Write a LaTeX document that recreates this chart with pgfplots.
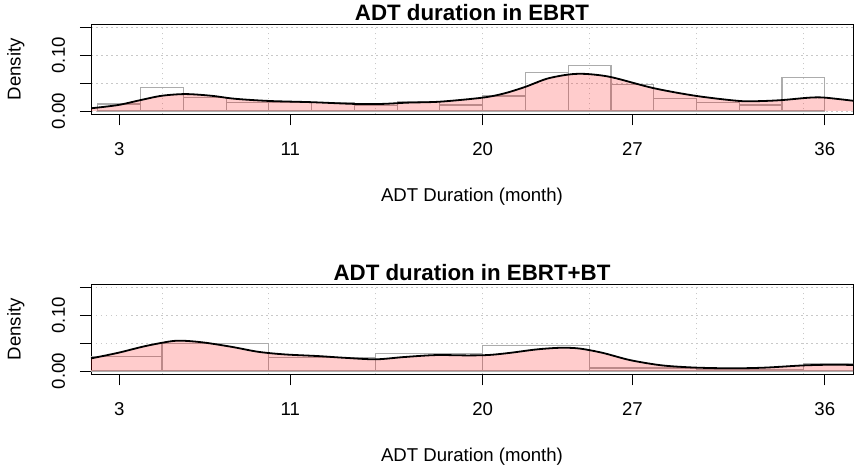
\documentclass[border=0pt]{standalone}
\usepackage{fontspec}
\setmainfont{Liberation Sans}
\usepackage{pgfplots}
\pgfplotsset{compat=1.18}
\usepackage{pgfplotstable}

\definecolor{gridgray}{RGB}{200,200,200}
\definecolor{bargray}{RGB}{172,172,172}

% Histogram EBRT (bin left edge, density); last row = right end
\pgfplotstableread{
x y
2 0.0125
4 0.0423
6 0.025
8 0.0155
10 0.0155
12 0.015
14 0.010
16 0.0167
18 0.0107
20 0.027
22 0.069
24 0.082
26 0.048
28 0.022
30 0.015
32 0.0107
34 0.060
36 0
}\histA

% Density EBRT
\pgfplotstableread{
x y
1.68 0.0048
2.95 0.0107
4.0 0.0196
5.0 0.0274
6.1 0.0304
7.3 0.0274
8.4 0.022
10 0.018
12 0.0158
14 0.0127
15.3 0.0127
16.5 0.0150
18 0.0167
20 0.024
21 0.0315
22 0.0435
23 0.058
24 0.0655
24.8 0.0667
26 0.061
28 0.041
30 0.027
32 0.018
33 0.0178
34 0.0196
35.3 0.024
36 0.024
37.32 0.0184
}\densA

% Histogram EBRT+BT
\pgfplotstableread{
x y
0 0.0268
5 0.0488
10 0.025
15 0.0315
20 0.0458
25 0.0054
30 0.003
35 0.0125
40 0
}\histB

% Density EBRT+BT
\pgfplotstableread{
x y
1.68 0.0226
2.95 0.0327
4.2 0.0446
5.45 0.0536
6.1 0.0542
7.0 0.051
8.25 0.0435
9.5 0.0345
10.74 0.0298
12.3 0.0268
13.5 0.0238
15.0 0.0210
16.3 0.0250
17.8 0.0286
19.3 0.0280
20.3 0.0288
21.3 0.0327
22.5 0.0387
23.6 0.0417
24.5 0.0405
25.6 0.0327
26.9 0.0195
28.4 0.0100
30 0.0060
31.7 0.0048
33.2 0.0060
35 0.0100
36.4 0.0113
37.32 0.0107
}\densB

\pgfplotsset{
  rplot/.style={
    scale only axis, width=762bp, height=90bp,
    xmin=1.68, xmax=37.32, ymin=-0.006, ymax=0.156,
    xtick={3,11,20,27,36},
    minor xtick={5,10,15,20,25,30,35},
    ytick={0,0.05,0.1,0.15},
    yticklabels={0.00,,0.10,},
    tick align=outside,
    major tick length=11bp,
    minor tick length=0pt,
    xtick pos=left, ytick pos=left,
    ymajorgrids, xminorgrids,
    major grid style={gridgray, dash pattern=on 1.5bp off 3.5bp, line width=0.9bp},
    minor grid style={gridgray, dash pattern=on 1.5bp off 3.5bp, line width=0.9bp},
    axis line style={line width=0.9bp},
    major tick style={black, line width=0.9bp},
    /pgf/number format/assume math mode=true,
    tick label style={font=\fontsize{18.6bp}{22bp}\selectfont},
    xticklabel style={anchor=base, yshift=-30bp},
    yticklabel style={xshift=-15bp, rotate=90, anchor=base},
    label style={font=\fontsize{18.6bp}{22bp}\selectfont},
    xlabel={ADT Duration (month)},
    ylabel={Density},
    xlabel style={at={(axis description cs:0.5,0)}, anchor=base, yshift=-87bp},
    ylabel style={at={(axis description cs:-0.0925,0.5)}, anchor=base, rotate=0},
    title style={font=\fontsize{22.3bp}{26bp}\selectfont\bfseries, at={(axis description cs:0.5,1)}, anchor=base, yshift=-2bp},
  }
}

\begin{document}
\begin{tikzpicture}
\useasboundingbox (0,0) rectangle (855bp,466bp);
\begin{axis}[rplot, at={(91bp,351.7bp)}, anchor=south west, title={ADT duration in EBRT}]
  \addplot[ybar interval, draw=bargray, fill=none, line width=1.1bp] table {\histA};
  \addplot[draw=none, fill=red, fill opacity=0.2, smooth, tension=0.5] table {\densA} \closedcycle;
  \addplot[black, line width=1.8bp, smooth, tension=0.5] table {\densA};
\end{axis}
\begin{axis}[rplot, at={(91bp,91.7bp)}, anchor=south west, title={ADT duration in EBRT+BT}]
  \addplot[ybar interval, draw=bargray, fill=none, line width=1.1bp] table {\histB};
  \addplot[draw=none, fill=red, fill opacity=0.2, smooth, tension=0.5] table {\densB} \closedcycle;
  \addplot[black, line width=1.8bp, smooth, tension=0.5] table {\densB};
\end{axis}
\end{tikzpicture}
\end{document}
